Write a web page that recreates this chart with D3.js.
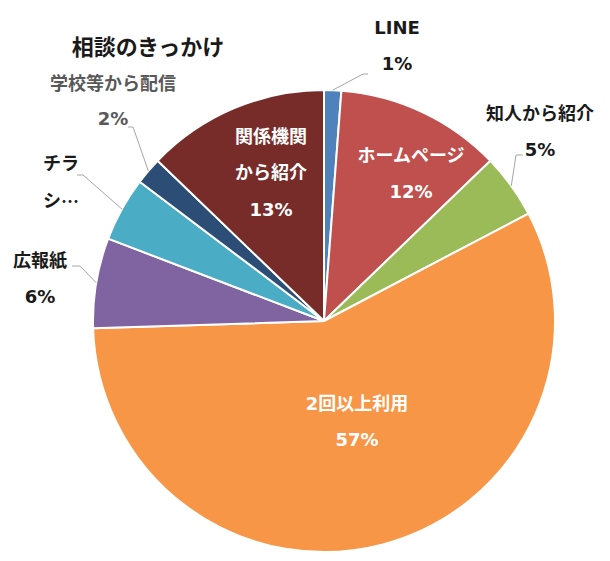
<!DOCTYPE html>
<html lang="ja">
<head>
<meta charset="UTF-8">
<title>相談のきっかけ</title>
<script src="https://d3js.org/d3.v7.min.js"></script>
<style>
  body { margin: 0; background: #fff; }
  svg { display: block; }
  .lbl { font-family: "DejaVu Sans", "Noto Sans CJK JP", sans-serif; font-size: 18px; font-weight: 700; }
  .cjk { font-family: "Noto Sans CJK JP", sans-serif; }
  .title { font-family: "Noto Sans CJK JP", "Noto Sans", sans-serif; font-size: 22px; font-weight: 600; fill: #1a1a1a; }
  .leader { fill: none; stroke: #a6a6a6; stroke-width: 1px; }
</style>
</head>
<body>
<svg width="610" height="561"></svg>
<script>
// data (percent shares)
const categories = ["LINE", "ホームページ", "知人から紹介", "2回以上利用", "広報紙", "チラシ", "学校等から配信", "関係機関から紹介"];
const shares = [1.2, 11.6, 4.5, 57.2, 6.3, 4.5, 1.9, 12.8];
const colors = ["#4f81bd", "#c0504d", "#9bbb59", "#f79646", "#8064a2", "#4bacc6", "#2c4d75", "#772c2a"];
// how each label is broken into lines (percent is added after)
const nameLines = [["LINE"], ["ホームページ"], ["知人から紹介"], ["2回以上利用"], ["広報紙"], ["チラ", "シ…"], ["学校等から配信"], ["関係機関", "から紹介"]];

// label layout: x, first line y, anchor, inside?, leader start (or null)
const labelLayout = [
  { x: 397, y: 27, anchor: "middle", inside: false, leader: [368, 74, 363] },
  { x: 411, y: 155, anchor: "middle", inside: true, leader: null },
  { x: 540, y: 113, anchor: "middle", inside: false, leader: [523, 155, 516] },
  { x: 357, y: 403, anchor: "middle", inside: true, leader: null },
  { x: 40, y: 260, anchor: "middle", inside: false, leader: [72, 266, 80] },
  { x: 43, y: 163, anchor: "start", inside: false, leader: [77, 175, 83] },
  { x: 113, y: 83, anchor: "middle", inside: false, leader: [128, 127, 133], grey: true },
  { x: 271, y: 136, anchor: "middle", inside: true, leader: null }
];

const width = 610, height = 561;
const cx = 324, cy = 321, radius = 231;
const lineGap = 36.5;

const svg = d3.select("svg");

svg.append("text")
  .attr("class", "title")
  .attr("x", 148)
  .attr("y", 45)
  .attr("text-anchor", "middle")
  .attr("dominant-baseline", "central")
  .text("相談のきっかけ");

const pie = d3.pie().sort(null).value(d => d)(shares);
const arc = d3.arc().innerRadius(0).outerRadius(radius);

const g = svg.append("g").attr("transform", `translate(${cx},${cy})`);

g.selectAll("path.slice")
  .data(pie)
  .enter()
  .append("path")
  .attr("class", "slice")
  .attr("d", arc)
  .attr("fill", (d, i) => colors[i])
  .attr("stroke", "#fff")
  .attr("stroke-width", 2)
  .attr("stroke-linejoin", "round");

// leader lines: from label to the outer edge at the slice's mid angle
pie.forEach((d, i) => {
  const L = labelLayout[i];
  if (!L.leader) return;
  const mid = (d.startAngle + d.endAngle) / 2;
  const ex = cx + radius * Math.sin(mid);
  const ey = cy - radius * Math.cos(mid);
  const [sx, sy, kx] = L.leader;
  svg.append("path")
    .attr("class", "leader")
    .attr("d", d3.line()([[sx, sy], [kx, sy], [ex, ey]]));
});

// labels
pie.forEach((d, i) => {
  const L = labelLayout[i];
  const lines = nameLines[i].slice();
  if (categories[i] !== "チラシ") lines.push(Math.round(shares[i]) + "%");
  const fill = L.inside ? "#fff" : (L.grey ? "#595959" : "#1a1a1a");
  const gap = L.grey ? 35 : lineGap;
  lines.forEach((t, k) => {
    const txt = svg.append("text")
      .attr("class", "lbl")
      .attr("x", L.x)
      .attr("y", L.y + k * gap)
      .attr("text-anchor", L.anchor)
      .attr("dominant-baseline", "central")
      .attr("fill", fill);
    if (t.endsWith("…")) {
      // truncated label: japanese-style centred ellipsis
      txt.append("tspan").text(t.slice(0, -1));
      txt.append("tspan").attr("class", "cjk").text("…");
    } else {
      txt.text(t);
    }
  });
});
</script>
</body>
</html>
